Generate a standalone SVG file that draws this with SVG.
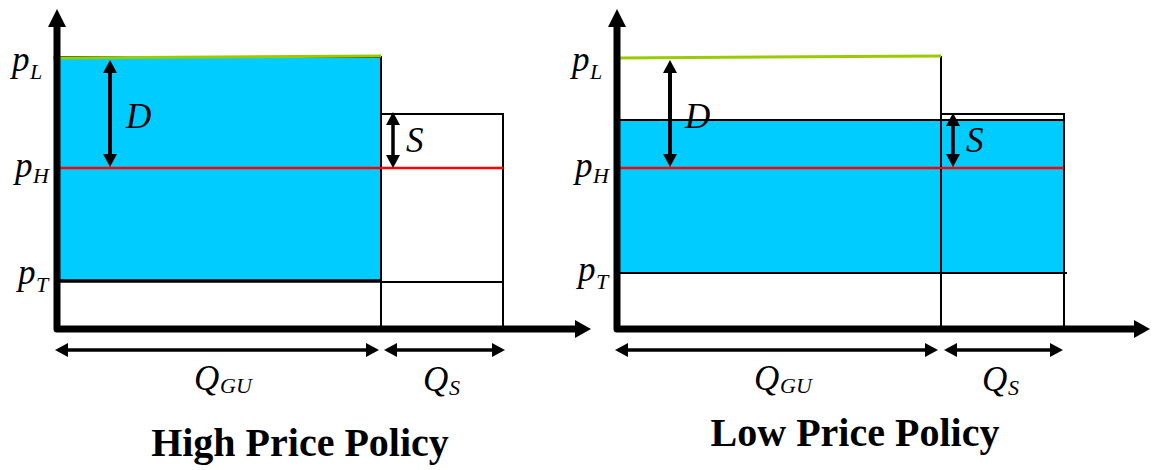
<svg xmlns="http://www.w3.org/2000/svg" width="1152" height="470" viewBox="0 0 1152 470">
<style>
.bg{fill:#ffffff}
.fill{fill:#00CCFF;stroke:#000;stroke-width:2}
.thin{stroke:#000;stroke-width:2;fill:none}
.green{stroke:#99CC00;stroke-width:3;fill:none}
.red{stroke:#FF0000;stroke-width:2.5;fill:none}
.axis{stroke:#000;stroke-width:7;fill:none;stroke-linejoin:round;stroke-linecap:butt}
.head{fill:#000}
.dv{stroke:#000;stroke-width:4;fill:none}
.dh{stroke:#000;stroke-width:3.5;fill:none}
.m{font-family:"Liberation Serif","Times New Roman",serif;font-style:italic;font-size:35px;fill:#000}
.sub{font-family:"Liberation Serif","Times New Roman",serif;font-style:italic;font-size:22px;fill:#000}
.title{font-family:"Liberation Serif","Times New Roman",serif;font-weight:bold;font-size:40px;fill:#000;text-anchor:middle}
</style>
<defs>
<marker id="ah" markerUnits="userSpaceOnUse" markerWidth="13" markerHeight="14" refX="0" refY="7" orient="auto-start-reverse" viewBox="0 0 13 14">
<path d="M0,0 L13,7 L0,14 z" fill="#000"/>
</marker>
</defs>
<rect class="bg" x="0" y="0" width="1152" height="470"/>

<g id="high-panel">
<rect class="fill" x="58" y="57" width="323" height="224"/>
<line class="thin" x1="381" y1="57" x2="381" y2="329"/>
<polyline class="thin" points="381,114 503,114 503,329"/>
<line class="thin" x1="381" y1="282" x2="503" y2="282"/>
<line x1="58" y1="281" x2="381" y2="281" stroke="#000" stroke-width="3.5"/>
<line class="green" x1="53" y1="58" x2="381" y2="56"/>
<line class="red" x1="58" y1="168" x2="503" y2="168"/>
</g>

<g id="low-panel">
<rect class="fill" x="618" y="120" width="446" height="153"/>
<line class="thin" x1="941" y1="56" x2="941" y2="329"/>
<polyline class="thin" points="941,114 1064,114 1064,329"/>
<line class="thin" x1="1064" y1="273" x2="1067" y2="273"/>
<line class="green" x1="618" y1="58" x2="941" y2="56"/>
<line class="red" x1="618" y1="168" x2="1064" y2="168"/>
</g>

<g id="axes">
<path class="axis" d="M57,26 V329 H576"/>
<polygon class="head" points="48,27 57,9 66,27"/>
<polygon class="head" points="575,320 591,329 575,338"/>
<path class="axis" d="M617,26 V329 H1135"/>
<polygon class="head" points="608,27 617,9 626,27"/>
<polygon class="head" points="1134,320 1150,329 1134,338"/>
</g>

<g id="connectors">
<line class="dv" x1="110" y1="73" x2="110" y2="154" marker-start="url(#ah)" marker-end="url(#ah)"/>
<line class="dh" x1="393" y1="125" x2="393" y2="155" marker-start="url(#ah)" marker-end="url(#ah)" stroke-width="3"/>
<line class="dh" x1="68" y1="350" x2="366" y2="350" marker-start="url(#ah)" marker-end="url(#ah)"/>
<line class="dh" x1="397" y1="350" x2="492" y2="350" marker-start="url(#ah)" marker-end="url(#ah)"/>
<line class="dv" x1="670" y1="73" x2="670" y2="154" marker-start="url(#ah)" marker-end="url(#ah)"/>
<line class="dh" x1="953" y1="126" x2="953" y2="154" marker-start="url(#ah)" marker-end="url(#ah)"/>
<line class="dh" x1="628" y1="350" x2="925" y2="350" marker-start="url(#ah)" marker-end="url(#ah)"/>
<line class="dh" x1="957" y1="350" x2="1050" y2="350" marker-start="url(#ah)" marker-end="url(#ah)"/>
</g>

<g id="labels-high">
<text class="m" x="12" y="71">p</text><text class="sub" x="30" y="79">L</text>
<text class="m" x="15" y="177">p</text><text class="sub" x="33" y="183">H</text>
<text class="m" x="18" y="284">p</text><text class="sub" x="36" y="292">T</text>
<text class="m" x="126" y="128">D</text>
<text class="m" x="406" y="152">S</text>
<text class="m" x="194" y="390">Q</text><text class="sub" x="220" y="393">GU</text>
<text class="m" x="423" y="391">Q</text><text class="sub" x="449" y="395">S</text>
<text class="title" x="300" y="456">High Price Policy</text>
</g>

<g id="labels-low">
<text class="m" x="572" y="71">p</text><text class="sub" x="590" y="79">L</text>
<text class="m" x="575" y="177">p</text><text class="sub" x="593" y="183">H</text>
<text class="m" x="578" y="281">p</text><text class="sub" x="596" y="289">T</text>
<text class="m" x="685" y="128">D</text>
<text class="m" x="966" y="152">S</text>
<text class="m" x="754" y="390">Q</text><text class="sub" x="780" y="393">GU</text>
<text class="m" x="982" y="391">Q</text><text class="sub" x="1008" y="395">S</text>
<text class="title" x="855" y="446">Low Price Policy</text>
</g>
</svg>
